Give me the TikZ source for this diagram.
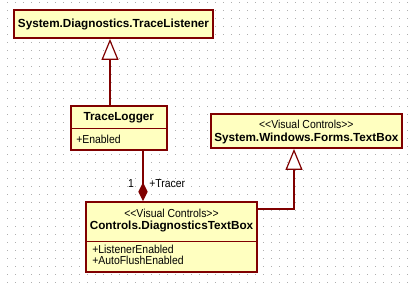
\documentclass[tikz,border=0pt]{standalone}
\usepackage{fontspec}
\setmainfont{Liberation Sans}
\newfontfamily\umlreg{Liberation Sans}[FakeStretch=0.9]
\usetikzlibrary{arrows.meta}
\definecolor{umlborder}{RGB}{128,0,0}
\definecolor{umlfill}{RGB}{255,255,192}
\definecolor{griddot}{RGB}{175,175,175}
\tikzset{
  umlbox/.style={draw=umlborder, fill=umlfill, line width=1.4pt, inner sep=0pt, rectangle},
  boldtxt/.style={font=\fontsize{8.8pt}{10pt}\selectfont\bfseries, inner sep=0pt},
  regtxt/.style={font=\fontsize{8.7pt}{9pt}\umlreg, inner sep=0pt},
  conn/.style={draw=umlborder, line width=0.9pt},
  genarrow/.style={-{Triangle[open, length=15.75pt, width=12.75pt, fill=white, line width=0.9pt]}},
  comparrow/.style={{Diamond[length=14pt, width=7pt, fill=umlborder]}-},
}
\begin{document}
\begin{tikzpicture}[x=0.75pt, y=-0.75pt]
\useasboundingbox (0,0) rectangle (411,283);
\fill[white] (0,0) rectangle (411,283);
% grid dots
\foreach \gx in {7,15,...,407} {
  \foreach \gy in {2,10,...,282} {
    \fill[griddot] (\gx-0.5,\gy-0.5) rectangle (\gx+0.5,\gy+0.5);
  }
}
% boxes
\node[umlbox, minimum width=149.25pt, minimum height=21pt] (tls) at (113.5,24) {};
\node[umlbox, minimum width=72.2pt, minimum height=33pt] (tlog) at (118.85,128) {};
\node[umlbox, minimum width=128.25pt, minimum height=52.5pt] (dtb) at (171.5,237) {};
\node[umlbox, minimum width=143.5pt, minimum height=25.5pt] (tb) at (306.35,131) {};
% dividers
\draw[umlborder, line width=0.9pt] (70.7,128.7) -- (167,128.7);
\draw[umlborder, line width=0.9pt] (86,241.7) -- (257,241.7);
% texts
\node[boldtxt] (tlsname) at (tls.center) {System.Diagnostics.TraceListener};
\node[boldtxt] (tlogname) at (118.85,117.5) {TraceLogger};
\node[regtxt, anchor=west] (tlogattr) at (76,139.5) {+Enabled};
\node[regtxt] (tbster) at (306.35,124.5) {<{}<Visual Controls>{}>};
\node[boldtxt] (tbname) at (306.35,138) {System.Windows.Forms.TextBox};
\node[regtxt] (dtbster) at (171.5,213) {<{}<Visual Controls>{}>};
\node[boldtxt] (dtbname) at (171.5,226.5) {Controls.DiagnosticsTextBox};
\node[regtxt, anchor=west] (dtbattr1) at (92,249) {+ListenerEnabled};
\node[regtxt, anchor=west] (dtbattr2) at (92,260.5) {+AutoFlushEnabled};
% connectors
\coordinate (g1x) at (110,0);
\coordinate (cx) at (143,0);
\coordinate (g2x) at (294,209);
\draw[conn, genarrow] (g1x |- tlog.north) -- (g1x |- tls.south);
\draw[conn, comparrow] (cx |- dtb.north) -- (cx |- tlog.south);
\draw[conn, genarrow] (dtb.east |- g2x) -- (g2x) -- (g2x |- tb.south);
% labels
\node[regtxt] (mult) at (131,183.5) {1};
\node[regtxt, anchor=west] (role) at (149,183.5) {+Tracer};
\end{tikzpicture}
\end{document}
